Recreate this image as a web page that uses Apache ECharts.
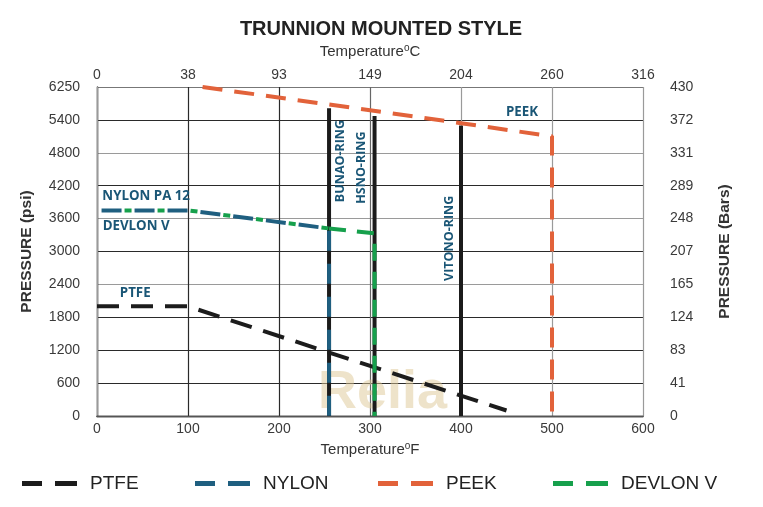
<!DOCTYPE html>
<html>
<head>
<meta charset="utf-8">
<script src="https://cdn.jsdelivr.net/npm/echarts@6/dist/echarts.min.js"></script>
<style>
html,body{margin:0;padding:0;background:#fff;}
#chart{width:763px;height:507px;}
</style>
</head>
<body>
<div id="chart"></div>
<script>
// ---- data ----
const tempTicksF = [0, 100, 200, 300, 400, 500, 600];
const celsiusTicks = ['0', '38', '93', '149', '204', '260', '316'];
const psiTicks = [0, 600, 1200, 1800, 2400, 3000, 3600, 4200, 4800, 5400, 6250];
const barTicks = ['0', '41', '83', '124', '165', '207', '248', '289', '331', '372', '430'];

const ptfeF = [0, 100, 450];
const ptfePsi = [2000, 2000, 100];

const nylonF = [5, 100, 255, 255];
const nylonPsi = [3750, 3750, 3420, 0];

const devlonSharedF = [5, 100, 255];
const devlonSharedPsi = [3750, 3750, 3420];
const devlonTailF = [255, 305, 305];
const devlonTailPsi = [3420, 3330, 0];

const peekF = [116, 300, 400, 500, 500];
const peekPsi = [6250, 5650, 5340, 5100, 0];

const ringNames = ['BUNAO-RING', 'HSNO-RING', 'VITONO-RING'];
const ringF = [255, 305, 400];
const ringTopPsi = [5700, 5500, 5300];
const ringLabelPsi = [4650, 4530, 3240];

const materialLabels = ['NYLON PA 12', 'DEVLON V', 'PTFE', 'PEEK'];
const materialLabelF = [54, 43, 42, 467];
const materialLabelPsi = [4000, 3470, 2240, 5600];

// psi -> position on the evenly spaced (but non-linear) pressure scale
function toIdx(p) {
  for (let i = 0; i < psiTicks.length - 1; i++) {
    if (p <= psiTicks[i + 1]) {
      return i + (p - psiTicks[i]) / (psiTicks[i + 1] - psiTicks[i]);
    }
  }
  return psiTicks.length - 1;
}
function pts(fs, ps) { return fs.map((f, i) => [f, toIdx(ps[i])]); }

const C_PTFE = '#1c1c1c', C_NYLON = '#1f5f80', C_PEEK = '#e2623a', C_DEVLON = '#16a04c';
const LABEL_C = '#1a5676';
const FONT = "'Liberation Sans', Arial, sans-serif";
const LFONT = "'Open Sans', sans-serif";
const DARK = '#2a2a2a', GRAY = '#9a9a9a';

const chart = echarts.init(document.getElementById('chart'), null, {renderer: 'canvas'});

const ringSeries = ringF.map((f, i) => ({
  name: ringNames[i], type: 'line', symbol: 'none', z: 2,
  data: [[f, 0], [f, toIdx(ringTopPsi[i])]],
  lineStyle: {color: '#1b1b1b', width: 4, type: 'solid'}
}));

// offsets are in the rotated label frame: [along text, across text]
const ringLabelOffsets = [[0, 11], [0, -13], [0, -12]];

const baseLabel = {show: true, position: 'inside', color: LABEL_C, fontWeight: 'bold', fontFamily: LFONT,
  textBorderWidth: 0, textBorderColor: 'transparent', textShadowBlur: 0};

const labelSeries = {
  type: 'scatter', symbolSize: 0, silent: true, z: 10,
  itemStyle: {color: LABEL_C, opacity: 1},
  data: ringF.map((f, i) => ({
    value: [f, toIdx(ringLabelPsi[i])],
    label: Object.assign({}, baseLabel, {formatter: ringNames[i], rotate: 90, offset: ringLabelOffsets[i], fontSize: 12.5})
  })).concat(materialLabels.map((t, i) => ({
    value: [materialLabelF[i], toIdx(materialLabelPsi[i])],
    label: Object.assign({}, baseLabel, {formatter: t, fontSize: 13.3})
  })))
};

const DASH_ICON = 'path://M0,0h20v5h-20z M33,0h22v5h-22z';

function legendAt(name, left, color) {
  return {
    left: left, top: 474, padding: 0, itemWidth: 55, itemHeight: 5, itemGap: 0,
    data: [{name: name, icon: DASH_ICON, itemStyle: {color: color}}],
    textStyle: {fontSize: 19, color: '#222', fontFamily: FONT, padding: [0, 0, 0, 8]}
  };
}

const option = {
  backgroundColor: '#fff',
  animation: false,
  title: {
    text: 'TRUNNION MOUNTED STYLE', left: 376, top: 14, textAlign: 'center',
    textStyle: {fontSize: 20, fontWeight: 'bold', color: '#222', fontFamily: FONT}
  },
  grid: {left: 97, right: 120, top: 87, bottom: 91},
  legend: [
    legendAt('PTFE', 22, C_PTFE),
    legendAt('NYLON', 195, C_NYLON),
    legendAt('PEEK', 378, C_PEEK),
    legendAt('DEVLON V', 553, C_DEVLON)
  ],
  graphic: [{
    type: 'text', left: 318, top: 366, z: 1, silent: true,
    style: {text: 'Relia', font: "bold 54px 'Liberation Sans', Arial, sans-serif", fill: 'rgba(222,200,150,0.5)'}
  }],
  xAxis: [{
    type: 'value', position: 'bottom', min: 0, max: 600, interval: 100,
    name: '{a|Temperature}{b|o}{a|F}', nameLocation: 'middle', nameGap: 24,
    nameTextStyle: {rich: {
      a: {fontSize: 15, color: '#333', fontFamily: FONT, lineHeight: 18},
      b: {fontSize: 10, color: '#333', fontFamily: FONT, verticalAlign: 'top', lineHeight: 18}
    }},
    axisLine: {show: true, lineStyle: {color: DARK, width: 1.3}},
    axisTick: {show: false},
    axisLabel: {margin: 6, fontSize: 14, color: '#3a3a3a', fontFamily: FONT,
      formatter: v => String(tempTicksF[tempTicksF.indexOf(v)])},
    splitLine: {show: true, lineStyle: {width: 1.2, color: [DARK, DARK, DARK, '#666', GRAY, GRAY, GRAY]}}
  }, {
    type: 'value', position: 'top', min: 0, max: 600, interval: 100,
    name: '{a|Temperature}{b|o}{a|C}', nameLocation: 'middle', nameGap: 26,
    nameTextStyle: {rich: {
      a: {fontSize: 15, color: '#333', fontFamily: FONT, lineHeight: 18},
      b: {fontSize: 10, color: '#333', fontFamily: FONT, verticalAlign: 'top', lineHeight: 18}
    }},
    axisLine: {show: true, lineStyle: {color: '#555', width: 1.3}},
    axisTick: {show: false},
    axisLabel: {margin: 5, fontSize: 14, color: '#3a3a3a', fontFamily: FONT,
      formatter: v => celsiusTicks[Math.round(v / 100)]},
    splitLine: {show: false}
  }],
  yAxis: [{
    type: 'value', position: 'left', min: 0, max: 10, interval: 1,
    name: 'PRESSURE (psi)', nameLocation: 'middle', nameGap: 62, nameRotate: 90,
    nameTextStyle: {fontSize: 15.5, fontWeight: 'bold', color: '#333', fontFamily: FONT},
    axisLine: {show: true, lineStyle: {color: DARK, width: 1.3}},
    axisTick: {show: false},
    axisLabel: {margin: 17, fontSize: 14, color: '#3a3a3a', fontFamily: FONT,
      formatter: v => String(psiTicks[Math.round(v)])},
    splitLine: {show: true, lineStyle: {width: 1.2,
      color: [DARK, DARK, DARK, DARK, GRAY, DARK, GRAY, DARK, GRAY, DARK, '#777']}}
  }, {
    type: 'value', position: 'right', min: 0, max: 10, interval: 1,
    name: 'PRESSURE (Bars)', nameLocation: 'middle', nameGap: 74, nameRotate: 90,
    nameTextStyle: {fontSize: 15.5, fontWeight: 'bold', color: '#333', fontFamily: FONT},
    axisLine: {show: true, lineStyle: {color: GRAY, width: 1.3}},
    axisTick: {show: false},
    axisLabel: {margin: 27, fontSize: 14, color: '#3a3a3a', fontFamily: FONT, align: 'left',
      formatter: v => barTicks[Math.round(v)]},
    splitLine: {show: false}
  }],
  series: ringSeries.concat([
    {
      name: 'PTFE', type: 'line', symbol: 'none', z: 3, data: pts(ptfeF, ptfePsi),
      lineStyle: {color: C_PTFE, width: 4, type: [22, 12]}, itemStyle: {color: C_PTFE}
    },
    {
      name: 'NYLON', type: 'line', symbol: 'none', z: 4, data: pts(nylonF, nylonPsi),
      lineStyle: {color: C_NYLON, width: 4, type: [20, 13]}, itemStyle: {color: C_NYLON}
    },
    {
      name: 'DEVLON V', type: 'line', symbol: 'none', z: 5, data: pts(devlonSharedF, devlonSharedPsi),
      lineStyle: {color: C_DEVLON, width: 4, type: [7, 26], dashOffset: 10}, itemStyle: {color: C_DEVLON}
    },
    {
      name: 'DEVLON V', type: 'line', symbol: 'none', z: 5, data: pts(devlonTailF, devlonTailPsi),
      lineStyle: {color: C_DEVLON, width: 4, type: [17, 11]}, itemStyle: {color: C_DEVLON}
    },
    {
      name: 'PEEK', type: 'line', symbol: 'none', z: 6, data: pts(peekF, peekPsi),
      lineStyle: {color: C_PEEK, width: 4, type: [20, 12]}, itemStyle: {color: C_PEEK}
    },
    labelSeries
  ])
};
chart.setOption(option);
</script>
</body>
</html>
